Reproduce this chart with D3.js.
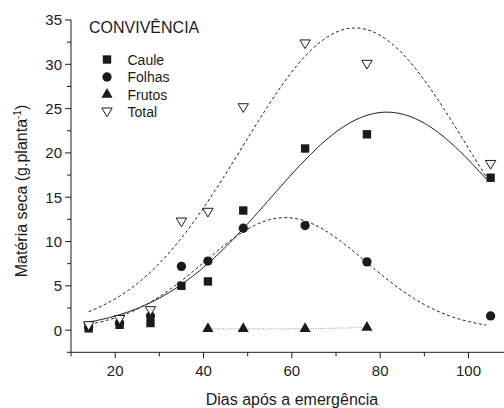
<!DOCTYPE html>
<html>
<head>
<meta charset="utf-8">
<script src="https://cdn.jsdelivr.net/npm/d3@7"></script>
<style>
  html, body { margin: 0; padding: 0; background: #fff; }
  svg { display: block; font-family: "Liberation Sans", Arial, sans-serif; }
</style>
</head>
<body>
<svg id="chart" width="504" height="408"></svg>
<script>
// Days after emergence at which plants were sampled
const days = [14, 21, 28, 35, 41, 49, 63, 77, 105];
// Dry matter (g per plant) by organ
const caule  = [0.2, 0.6, 0.8, 5.0, 5.5, 13.5, 20.5, 22.1, 17.2];
const folhas = [0.3, 0.8, 1.6, 7.2, 7.8, 11.5, 11.8, 7.7, 1.6];
const total  = [0.5, 1.2, 2.2, 12.2, 13.3, 25.1, 32.3, 30.0, 18.7];
const frutosDays = [41, 49, 63, 77];
const frutos     = [0.15, 0.15, 0.15, 0.3];

// Gaussian regression fits: [peak, day of peak, spread, first day, last day]
const fitCaule  = [24.6, 81.5, 26.3, 13, 104];
const fitFolhas = [12.7, 58.5, 18.3, 13, 104];
const fitTotal  = [34.1, 74.3, 25.5, 14, 104];

const xTicks = [20, 40, 60, 80, 100];
const yTicks = [0, 5, 10, 15, 20, 25, 30, 35];
const legendLabels = ["Caule", "Folhas", "Frutos", "Total"];

const svg = d3.select("#chart");
const ink = "#1b1b1b";

const x = d3.scaleLinear().domain([10, 110]).range([71, 512.7]);
const y = d3.scaleLinear().domain([-2.5, 35]).range([352.3, 20]);

// Axes
const xAxis = svg.append("g").attr("transform", `translate(0,${y(-2.5)})`);
xAxis.append("line").attr("x1", x(10)).attr("x2", 504).attr("stroke", ink);
xAxis.selectAll(".minor").data(d3.range(10, 111, 10).filter(d => d % 20 !== 0))
  .join("line").attr("x1", d => x(d)).attr("x2", d => x(d))
  .attr("y1", 0).attr("y2", 4).attr("stroke", ink);
xAxis.selectAll(".major").data(xTicks).join("line")
  .attr("x1", d => x(d)).attr("x2", d => x(d))
  .attr("y1", 0).attr("y2", 6).attr("stroke", ink);
xAxis.selectAll("text").data(xTicks).join("text")
  .attr("x", d => x(d)).attr("y", 23.5).attr("text-anchor", "middle")
  .attr("font-size", 15).attr("fill", ink).text(d => d);

const yAxis = svg.append("g").attr("transform", `translate(${x(10)},0)`);
yAxis.append("line").attr("y1", y(-2.5)).attr("y2", y(35)).attr("stroke", ink);
yAxis.selectAll(".minor").data(d3.range(-2.5, 35, 5))
  .join("line").attr("y1", d => y(d)).attr("y2", d => y(d))
  .attr("x1", 0).attr("x2", -4).attr("stroke", ink);
yAxis.selectAll(".major").data(yTicks).join("line")
  .attr("y1", d => y(d)).attr("y2", d => y(d))
  .attr("x1", 0).attr("x2", -6).attr("stroke", ink);
yAxis.selectAll("text").data(yTicks).join("text")
  .attr("x", -9).attr("y", d => y(d)).attr("dy", "0.36em")
  .attr("text-anchor", "end").attr("font-size", 15).attr("fill", ink).text(d => d);

// Axis titles
svg.append("text").attr("x", 292).attr("y", 405).attr("text-anchor", "middle")
  .attr("font-size", 16).attr("fill", ink).text("Dias após a emergência");
const yt = svg.append("text")
  .attr("transform", "translate(27,191) rotate(-90)")
  .attr("text-anchor", "middle").attr("font-size", 16).attr("fill", ink);
yt.append("tspan").text("Matéria seca (g.planta");
yt.append("tspan").attr("dy", -6).attr("font-size", 10).text("-1");
yt.append("tspan").attr("dy", 6).text(")");

// Fitted curves
const gauss = p => d => p[0] * Math.exp(-0.5 * Math.pow((d - p[1]) / p[2], 2));
const line = d3.line().x(d => x(d[0])).y(d => y(d[1]));
function fitPath(p, dash, width) {
  const f = gauss(p);
  const pts = d3.range(p[3], p[4] + 0.001, 0.5).map(d => [d, f(d)]);
  svg.append("path").attr("d", line(pts)).attr("fill", "none")
    .attr("stroke", ink).attr("stroke-width", width)
    .attr("stroke-dasharray", dash);
}
fitPath(fitTotal, "3,2.5", 1);
fitPath(fitFolhas, "3,2.5", 1);
fitPath(fitCaule, null, 1);

// Fruits joined by a dotted line
svg.append("path").attr("d", line(frutosDays.map((d, i) => [d, frutos[i]])))
  .attr("fill", "none").attr("stroke", "#999").attr("stroke-width", 1)
  .attr("stroke-dasharray", "1,1.5");

// Markers
const sym = {
  square: d3.symbol().type(d3.symbolSquare).size(70),
  circle: d3.symbol().type(d3.symbolCircle).size(68),
  triangle: d3.symbol().type(d3.symbolTriangle).size(54)
};
function openTri(g) {
  g.append("path").attr("d", "M-5.2,-4L5.2,-4L0,4.7Z")
    .attr("fill", "#fff").attr("stroke", ink).attr("stroke-width", 1);
}
function drawSeries(xs, vs, kind) {
  xs.forEach((d, i) => {
    const g = svg.append("g").attr("transform", `translate(${x(d)},${y(vs[i])})`);
    if (kind === "open") openTri(g);
    else g.append("path").attr("d", sym[kind]()).attr("fill", ink);
  });
}
drawSeries(days, folhas, "circle");
drawSeries(days, caule, "square");
drawSeries(frutosDays, frutos, "triangle");
drawSeries(days, total, "open");

// Legend
svg.append("text").attr("x", 89).attr("y", 32.5).attr("font-size", 16)
  .attr("fill", ink).text("CONVIVÊNCIA");
const kinds = ["square", "circle", "triangle", "open"];
legendLabels.forEach((lab, i) => {
  const cy = 59.5 + i * 17.5;
  const g = svg.append("g").attr("transform", `translate(107,${cy})`);
  if (kinds[i] === "open") openTri(g);
  else g.append("path").attr("d", sym[kinds[i]]()).attr("fill", ink);
  svg.append("text").attr("x", 127.5).attr("y", cy).attr("dy", "0.36em")
    .attr("font-size", 14).attr("fill", ink).text(lab);
});
</script>
</body>
</html>
